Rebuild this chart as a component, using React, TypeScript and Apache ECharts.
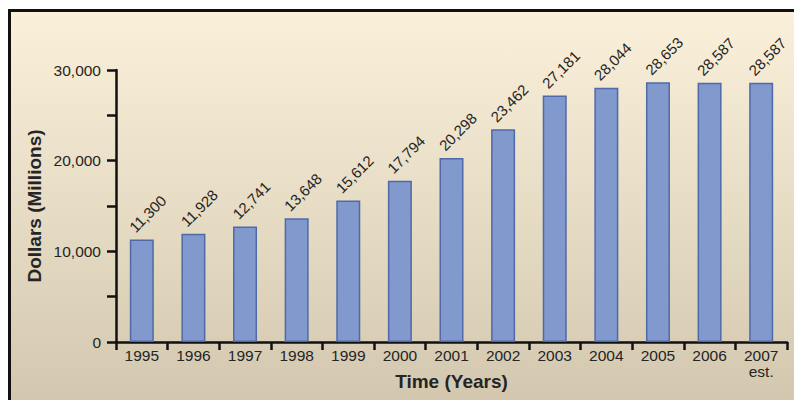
import React, { useEffect, useRef } from "react";
import * as echarts from "echarts";

const years = ["1995", "1996", "1997", "1998", "1999", "2000", "2001", "2002", "2003", "2004", "2005", "2006", "2007\nest."];
const dollars = [11300, 11928, 12741, 13648, 15612, 17794, 20298, 23462, 27181, 28044, 28653, 28587, 28587];
const yMin = 0;
const yMax = 30000;
const yStep = 5000;
const yLabelStep = 10000;

const FONT = "'Liberation Sans', Arial, Helvetica, sans-serif";
const TEXT = "#252525";

export default function App() {
  const ref = useRef<HTMLDivElement>(null);
  useEffect(() => {
    if (!ref.current) return;
    const chart = echarts.init(ref.current, undefined, { renderer: "svg" });
    chart.setOption({
      animation: false,
      textStyle: { fontFamily: FONT },
      graphic: [
        {
          type: "rect",
          z: -10,
          shape: { x: 8, y: 9, width: 786, height: 391 },
          style: {
            fill: new echarts.graphic.LinearGradient(0, 0, 0, 1, [
              { offset: 0, color: "#fbf0da" },
              { offset: 1, color: "#d3c8af" },
            ]),
          },
        },
        { type: "line", z: 10, shape: { x1: 9.5, y1: 10.5, x2: 9.5, y2: 400 }, style: { stroke: "#111", lineWidth: 3 } },
        { type: "line", z: 10, shape: { x1: 8, y1: 10.5, x2: 794, y2: 10.5 }, style: { stroke: "#111", lineWidth: 3 } },
      ],
      grid: { left: 116, right: 7, top: 70, bottom: 58, containLabel: false, outerBoundsMode: "none" },
      xAxis: {
        type: "category",
        data: years,
        name: "Time (Years)",
        nameLocation: "middle",
        nameGap: 30,
        nameMoveOverlap: false,
        nameTextStyle: { fontFamily: FONT, fontSize: 19, fontWeight: "bold", color: TEXT },
        axisLine: { show: true, lineStyle: { color: "#111", width: 2.5 } },
        axisTick: { show: true, length: 8, lineStyle: { color: "#111", width: 2.5 } },
        axisLabel: { margin: 5, fontFamily: FONT, fontSize: 15.5, color: TEXT, lineHeight: 16, interval: 0 },
      },
      yAxis: {
        type: "value",
        min: yMin,
        max: yMax,
        interval: yStep,
        name: "Dollars (Millions)",
        nameLocation: "middle",
        nameGap: 72,
        nameMoveOverlap: false,
        nameTextStyle: { fontFamily: FONT, fontSize: 19, fontWeight: "bold", color: TEXT },
        splitLine: { show: false },
        axisLine: { show: true, lineStyle: { color: "#111", width: 2.5 } },
        axisTick: { show: true, length: 9, lineStyle: { color: "#111", width: 2.5 } },
        axisLabel: {
          margin: 15,
          fontFamily: FONT,
          fontSize: 15.5,
          color: TEXT,
          formatter: (v: number) => (v % yLabelStep === 0 ? v.toLocaleString("en-US") : ""),
        },
      },
      series: [
        {
          type: "bar",
          data: dollars,
          barWidth: 24,
          itemStyle: { color: "#8199cd", borderColor: "#4f6aa9", borderWidth: 1.5 },
          label: {
            show: true,
            position: [2, -10],
            rotate: 45,
            align: "left",
            verticalAlign: "middle",
            fontFamily: FONT,
            fontSize: 15,
            color: TEXT,
            formatter: (p: any) => Number(p.value).toLocaleString("en-US"),
          },
        },
      ],
    });
    return () => chart.dispose();
  }, []);
  return (
    <div
      ref={ref}
      style={{ position: "fixed", left: 0, top: 0, width: 794, height: 400, background: "#fff" }}
    />
  );
}
